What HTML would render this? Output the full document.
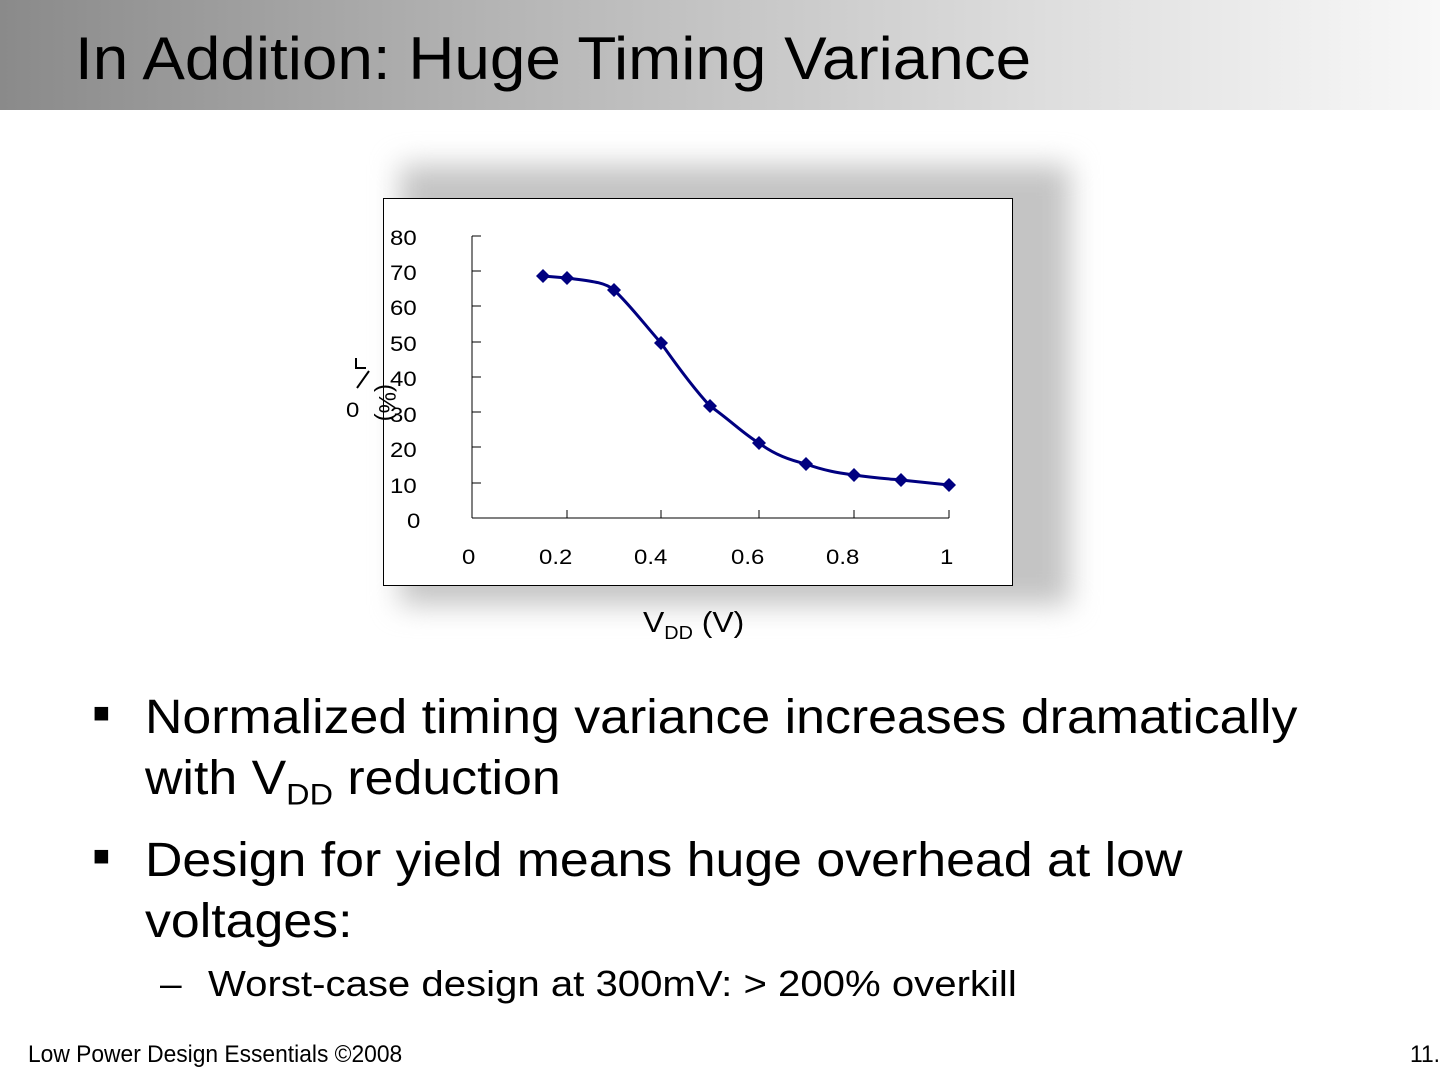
<!DOCTYPE html>
<html><head><style>
body{margin:0;width:1440px;height:1080px;background:#fff;position:relative;overflow:hidden;font-family:"Liberation Sans",sans-serif;}
.bar{position:absolute;left:0;top:0;width:1440px;height:110px;background:linear-gradient(to right,#8a8a8a 0%,#b5b5b5 35%,#e0e0e0 75%,#f8f8f8 100%);}
.title{position:absolute;left:75px;top:24px;font-size:60px;color:#000;transform:scaleX(1.063);transform-origin:left;white-space:nowrap;}
.shadow{position:absolute;left:400px;top:165px;width:670px;height:440px;background:#c4c4c4;filter:blur(14px);}
.box{position:absolute;left:383px;top:198px;width:628px;height:386px;border:1px solid #000;background:#fff;}
.t{position:absolute;font-size:21px;color:#000;transform:scaleX(1.14);transform-origin:left;white-space:nowrap;}
.b{position:absolute;font-size:48px;color:#000;transform:scaleX(1.08);transform-origin:left;white-space:nowrap;}
.sq{position:absolute;font-size:28px;color:#000;}
</style></head><body>
<div class="bar"></div>
<div class="title">In Addition: Huge Timing Variance</div>
<div class="shadow"></div>
<div class="box"></div>
<svg style="position:absolute;left:0;top:0" width="1440" height="1080">
<g stroke="#000" stroke-width="1" fill="none">
<line x1="472" y1="236" x2="472" y2="518"/><line x1="472" y1="518" x2="949" y2="518"/>
<line x1="472" y1="236" x2="481" y2="236"/><line x1="472" y1="271" x2="481" y2="271"/><line x1="472" y1="306" x2="481" y2="306"/><line x1="472" y1="342" x2="481" y2="342"/><line x1="472" y1="377" x2="481" y2="377"/><line x1="472" y1="412" x2="481" y2="412"/><line x1="472" y1="447" x2="481" y2="447"/><line x1="472" y1="483" x2="481" y2="483"/>
<line x1="567" y1="510" x2="567" y2="518"/><line x1="661" y1="510" x2="661" y2="518"/><line x1="759" y1="510" x2="759" y2="518"/><line x1="854" y1="510" x2="854" y2="518"/><line x1="949" y1="510" x2="949" y2="518"/>
</g>
<path d="M543,276 L567,278 C590,281 605,282 614,290 C630,305 645,325 661,343 C680,370 695,390 710,406 C730,420 745,435 759,443 C775,455 790,460 806,464 C825,471 840,473 854,475 C875,478 890,479 901,480 L949,485" stroke="#000080" stroke-width="3" fill="none"/>
<g fill="#000080">
<path d="M543,269 l7,7 -7,7 -7,-7z"/><path d="M567,271 l7,7 -7,7 -7,-7z"/><path d="M614,283 l7,7 -7,7 -7,-7z"/><path d="M661,336 l7,7 -7,7 -7,-7z"/><path d="M710,399 l7,7 -7,7 -7,-7z"/><path d="M759,436 l7,7 -7,7 -7,-7z"/><path d="M806,457 l7,7 -7,7 -7,-7z"/><path d="M854,468 l7,7 -7,7 -7,-7z"/><path d="M901,473 l7,7 -7,7 -7,-7z"/><path d="M949,478 l7,7 -7,7 -7,-7z"/>
</g>
<line x1="357" y1="388" x2="369" y2="371" stroke="#000" stroke-width="2"/>
<path d="M356,358 v10 h10" stroke="#000" stroke-width="2" fill="none"/>
</svg>
<div class="t" style="left:390px;top:227px">80</div>
<div class="t" style="left:390px;top:262px">70</div>
<div class="t" style="left:390px;top:297px">60</div>
<div class="t" style="left:390px;top:333px">50</div>
<div class="t" style="left:390px;top:368px">40</div>
<div class="t" style="left:390px;top:404px">30</div>
<div class="t" style="left:390px;top:439px">20</div>
<div class="t" style="left:390px;top:475px">10</div>
<div class="t" style="left:407px;top:510px">0</div>
<div class="t" style="left:346px;top:399px">0</div>
<div class="t" style="left:386px;top:370px;transform:rotate(90deg);font-size:24px">(%)</div>
<div class="t" style="left:462px;top:546px">0</div>
<div class="t" style="left:539px;top:546px">0.2</div>
<div class="t" style="left:634px;top:546px">0.4</div>
<div class="t" style="left:731px;top:546px">0.6</div>
<div class="t" style="left:826px;top:546px">0.8</div>
<div class="t" style="left:940px;top:546px">1</div>
<div class="t" style="left:643px;top:607px;font-size:29px;transform:scaleX(1.1)">V<sub style="font-size:18px">DD</sub> (V)</div>
<div class="sq" style="left:93px;top:697px">■</div>
<div class="b" style="left:145px;top:690px">Normalized timing variance increases dramatically</div>
<div class="b" style="left:145px;top:751px">with V<sub style="font-size:30px">DD</sub> reduction</div>
<div class="sq" style="left:93px;top:840px">■</div>
<div class="b" style="left:145px;top:833px">Design for yield means huge overhead at low</div>
<div class="b" style="left:145px;top:894px">voltages:</div>
<div class="b" style="left:160px;top:963px;font-size:36px">–</div>
<div class="b" style="left:208px;top:963px;font-size:36px;transform:scaleX(1.115)">Worst-case design at 300mV: &gt; 200% overkill</div>
<div class="t" style="left:28px;top:1041px;font-size:24px;transform:scaleX(0.95)">Low Power Design Essentials ©2008</div>
<div class="t" style="left:1410px;top:1041px;font-size:24px;transform:scaleX(0.95)">11.</div>
</body></html>
